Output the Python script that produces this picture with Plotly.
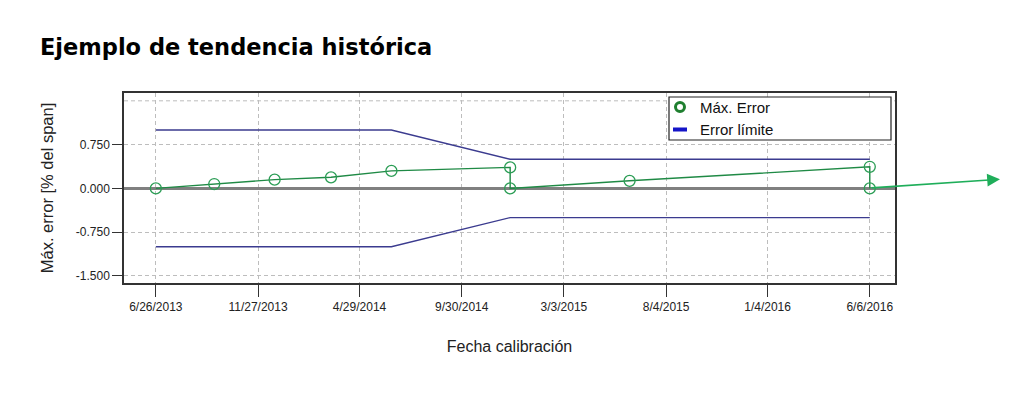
import plotly.graph_objects as go

# ---- data ----
cal_dates = ['2013-06-26', '2013-09-22', '2013-12-22', '2014-03-17', '2014-06-16',
             '2014-12-12', '2014-12-12', '2015-06-10', '2016-06-06', '2016-06-06']
max_error = [0.0, 0.075, 0.15, 0.19, 0.30, 0.36, 0.0, 0.13, 0.37, 0.0]

limit_dates = ['2013-06-26', '2014-06-16', '2014-12-12', '2016-06-06']
limit_upper = [1.0, 1.0, 0.5, 0.5]
limit_lower = [-1.0, -1.0, -0.5, -0.5]

x_tick_vals = ['2013-06-26', '2013-11-27', '2014-04-29', '2014-09-30',
               '2015-03-03', '2015-08-04', '2016-01-04', '2016-06-06']
x_tick_text = ['6/26/2013', '11/27/2013', '4/29/2014', '9/30/2014',
               '3/3/2015', '8/4/2015', '1/4/2016', '6/6/2016']
y_tick_vals = [-1.5, -0.75, 0.0, 0.75]
y_tick_text = ['-1.500', '-0.750', '0.000', '0.750']

GREEN_LINE = '#1f8a45'
GREEN_MARK = '#2b9d55'
NAVY = '#3b3b8f'
GRID = '#bdbdbd'
GRID_DASH = '4px,3px'
BASE_FONT = 'Liberation Sans, Arial, sans-serif'

fig = go.Figure()

fig.add_trace(go.Scatter(x=limit_dates, y=limit_upper, mode='lines',
                         line=dict(color=NAVY, width=1.4), showlegend=False, hoverinfo='skip'))
fig.add_trace(go.Scatter(x=limit_dates, y=limit_lower, mode='lines',
                         line=dict(color=NAVY, width=1.4), showlegend=False, hoverinfo='skip'))
fig.add_trace(go.Scatter(x=cal_dates, y=max_error, mode='lines+markers',
                         line=dict(color=GREEN_LINE, width=1.4),
                         marker=dict(symbol='circle-open', size=11, color=GREEN_MARK,
                                     line=dict(width=1.3, color=GREEN_MARK)),
                         showlegend=False, cliponaxis=False))

# legend-only entries
fig.add_trace(go.Scatter(x=[None], y=[None], mode='markers', name='Máx. Error',
                         marker=dict(symbol='circle-open', size=9, color='#1f7f2f',
                                     line=dict(width=3, color='#1f7f2f'))))
fig.add_trace(go.Scatter(x=[None], y=[None], mode='markers', name='Error límite',
                         marker=dict(symbol='line-ew', size=10, color='#1414c8',
                                     line=dict(width=4, color='#1414c8'))))

fig.update_layout(
    width=1033, height=394,
    margin=dict(l=124, r=138, t=93, b=111),
    paper_bgcolor='white', plot_bgcolor='white',
    font=dict(family=BASE_FONT, color='#222222', size=12),
    title=dict(text='Ejemplo de tendencia histórica', xref='container', yref='container',
               x=40/1033, xanchor='left', y=1-47/394, yanchor='middle',
               font=dict(family='DejaVu Sans, sans-serif', size=22.5, weight='bold', color='#000000')),
    legend=dict(x=(660-124)/771, xanchor='left', y=1.012, yanchor='top',
                bgcolor='rgba(0,0,0,0)', borderwidth=0,
                font=dict(family=BASE_FONT, size=15, color='#111111'),
                tracegroupgap=0, itemsizing='trace'),
    showlegend=True,
)

fig.update_xaxes(
    type='date', range=['2013-05-09', '2016-07-14'],
    tickmode='array', tickvals=x_tick_vals, ticktext=x_tick_text,
    ticks='outside', ticklen=12, tickwidth=1, tickcolor='#333333',
    tickfont=dict(family='Liberation Sans Narrow, Arial Narrow, Liberation Sans, sans-serif', size=12),
    showgrid=True, gridcolor=GRID, griddash=GRID_DASH, gridwidth=1,
    showline=True, linecolor='#333333', linewidth=1.5, mirror=True,
    zeroline=False,
    title=dict(text='Fecha calibración', standoff=28,
               font=dict(family=BASE_FONT, size=16, color='#222222')),
)

fig.update_yaxes(
    range=[-1.62, 1.634],
    tickmode='array', tickvals=y_tick_vals, ticktext=y_tick_text,
    ticks='outside', ticklen=10, tickwidth=1, tickcolor='#333333',
    tickfont=dict(family=BASE_FONT, size=12),
    showgrid=True, gridcolor=GRID, griddash=GRID_DASH, gridwidth=1,
    showline=True, linecolor='#333333', linewidth=1.5, mirror=True,
    zeroline=True, zerolinecolor='#808080', zerolinewidth=2.5,
    title=dict(text='Máx. error [% del span]', standoff=18,
               font=dict(family=BASE_FONT, size=16.5, color='#222222')),
)

# extra dashed gridline at 1.5 (no label)
fig.add_shape(type='line', xref='paper', yref='y', x0=0, x1=1, y0=1.5, y1=1.5,
              line=dict(color=GRID, width=1, dash=GRID_DASH), layer='below')

# legend box
fig.add_shape(type='rect', xref='paper', yref='paper',
              x0=(669-124)/771, x1=(891-124)/771,
              y0=1-(140-93)/190, y1=1-(97-93)/190,
              line=dict(color='#222222', width=1.2), fillcolor='white', layer='above')

# trend arrow leaving the chart
fig.add_annotation(xref='paper', yref='paper', x=(1000-124)/771, y=(283-179.3)/190,
                   ax=-130, ay=8.7, axref='pixel', ayref='pixel',
                   text='', showarrow=True, arrowhead=2, arrowsize=1.6, arrowwidth=1.6,
                   arrowcolor='#1fae5a', standoff=0, startstandoff=0)

fig.write_html('out.html')
